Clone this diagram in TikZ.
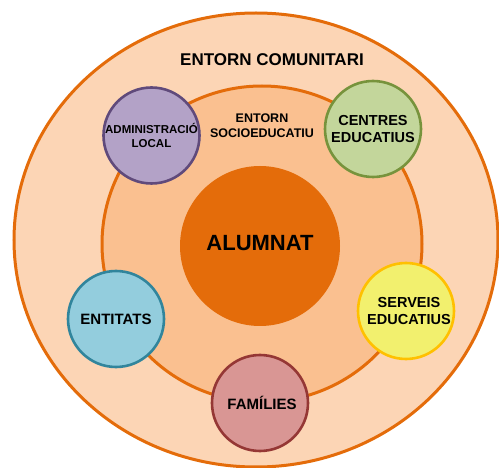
\documentclass[tikz,border=0pt]{standalone}
\usepackage{fontspec}
\setmainfont{Liberation Sans}
\definecolor{ringorange}{HTML}{E46C0A}
\definecolor{outerfill}{HTML}{FCD5B5}
\definecolor{midfill}{HTML}{FAC090}
\definecolor{purfill}{HTML}{B3A2C7}
\definecolor{purline}{HTML}{604A7B}
\definecolor{grnfill}{HTML}{C3D69B}
\definecolor{grnline}{HTML}{77933C}
\definecolor{bluefill}{HTML}{93CDDD}
\definecolor{blueline}{HTML}{31859C}
\definecolor{yelfill}{HTML}{F2F06E}
\definecolor{yelline}{HTML}{FFC000}
\definecolor{pinkfill}{HTML}{D99694}
\definecolor{pinkline}{HTML}{953735}
\begin{document}
\begin{tikzpicture}[x=1pt,y=-1pt,
  ring/.style={draw=ringorange,line width=3pt},
  agent/.style={circle,minimum size=96pt,inner sep=0pt,line width=2.6pt,align=center,font=\bfseries\fontsize{14.5}{17}\selectfont},
  lbl/.style={align=center,inner sep=0pt}]
\useasboundingbox (0,0) rectangle (499,468);
\begin{scope}
\clip (0,0) rectangle (499,468);
\draw[ring,fill=outerfill] (256,240) ellipse [x radius=242,y radius=227];
\end{scope}
\draw[ring,fill=midfill] (262,244) ellipse [x radius=160,y radius=158];
\node[circle,fill=ringorange,minimum size=160pt,inner sep=0pt] (alumnat) at (260,246) {};
\node[lbl,font=\bfseries\fontsize{22}{26}\selectfont] (alumnatlbl) at (260,243) {ALUMNAT};
\node[lbl,font=\bfseries\fontsize{17}{20}\selectfont] (comunitari) at (272,60) {ENTORN COMUNITARI};
\node[lbl,font=\bfseries\fontsize{12.5}{15}\selectfont] (socio) at (262,126) {ENTORN\\SOCIOEDUCATIU};
\node[agent,fill=purfill,draw=purline,font=\bfseries\fontsize{11.5}{14}\selectfont] (admin) at (151.5,135.5) {ADMINISTRACIÓ\\LOCAL};
\node[agent,fill=grnfill,draw=grnline] (centres) at (373,129) {CENTRES\\EDUCATIUS};
\node[agent,fill=bluefill,draw=blueline,font=\bfseries\fontsize{15}{17}\selectfont] (entitats) at (116,319) {ENTITATS};
\node[agent,fill=yelfill,draw=yelline] (serveis) at (406,311) {\hspace*{6pt}SERVEIS\\\hspace*{6pt}EDUCATIUS};
\node[agent,fill=pinkfill,draw=pinkline,font=\bfseries\fontsize{15}{17}\selectfont] (families) at (260,403) {\hspace*{4pt}FAMÍLIES};
\end{tikzpicture}
\end{document}
